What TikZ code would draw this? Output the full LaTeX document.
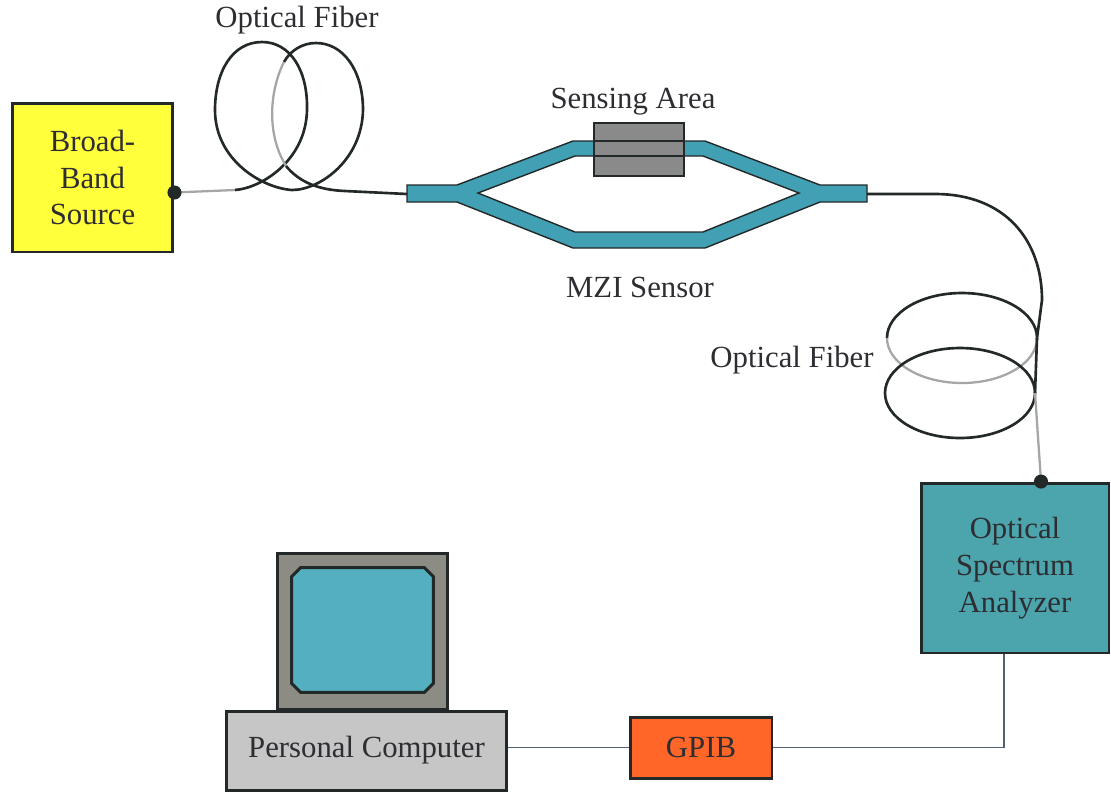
\documentclass[tikz,border=0pt]{standalone}
\usepackage{fontspec}
\setmainfont{Liberation Serif}
\usetikzlibrary{positioning}
\definecolor{SrcYellow}{RGB}{255,255,60}
\definecolor{WgTeal}{RGB}{66,160,180}
\definecolor{OsaTeal}{RGB}{76,164,172}
\definecolor{ScrTeal}{RGB}{84,176,192}
\definecolor{GpibOrange}{RGB}{255,102,40}
\definecolor{PcGray}{RGB}{198,198,198}
\definecolor{FrameGray}{RGB}{140,140,132}
\definecolor{SenseGray}{RGB}{138,138,138}
\definecolor{Edge}{RGB}{35,40,40}
\definecolor{InkGray}{RGB}{45,45,50}
\definecolor{LinkGray}{RGB}{85,95,115}
\tikzset{box/.style={rectangle,draw=Edge,line width=1.7pt,align=center,text=InkGray,inner sep=0pt},
  lbl/.style={text=InkGray,inner sep=0pt},
  fiber/.style={draw=Edge,line width=1.5pt},
  hidden/.style={draw=gray!70,line width=1.3pt},
  link/.style={draw=LinkGray,line width=0.6pt},
  port/.style={circle,fill=Edge,inner sep=0pt,minimum size=8pt}}

\begin{document}
\begin{tikzpicture}[x=0.02cm,y=-0.02cm,font=\fontsize{17.5}{21}\selectfont]
\useasboundingbox (0,0) rectangle (1111,796);
% instruments
\node[box,fill=SrcYellow,minimum width=3.22cm,minimum height=2.98cm] (bbs) at (92.5,177.5) {Broad-\\Band\\Source};
\node[box,fill=OsaTeal,minimum width=3.76cm,minimum height=3.4cm] (osa) at (1015,568) {Optical\\Spectrum\\Analyzer};
\node[box,fill=GpibOrange,minimum width=2.84cm,minimum height=1.22cm] (gpib) at (701,747.5) {GPIB};
\node[box,fill=PcGray,minimum width=5.62cm,minimum height=1.58cm] (pc) at (366.5,750.5) {Personal Computer};
\node[box,fill=FrameGray,minimum width=3.42cm,minimum height=3.12cm] (monitor) at (362.5,631) {};
% screen with cut corners
\node[rectangle,inner sep=0pt,minimum width=2.82cm,minimum height=2.48cm] (screen) at (362.5,630) {};
\draw[Edge,line width=1.7pt,fill=ScrTeal]
  ([xshift=0.18cm]screen.north west) -- ([xshift=-0.18cm]screen.north east) -- ([yshift=-0.18cm]screen.north east)
  -- ([yshift=0.18cm]screen.south east) -- ([xshift=-0.18cm]screen.south east) -- ([xshift=0.18cm]screen.south west)
  -- ([yshift=0.18cm]screen.south west) -- ([yshift=-0.18cm]screen.north west) -- cycle;

% fiber ports
\coordinate (srcport) at ([yshift=-0.3cm]bbs.east);
\coordinate (osaport) at ([xshift=0.52cm]osa.north);
\coordinate (osalink) at ([xshift=-0.22cm]osa.south);
\coordinate (mzin) at (407,194);
\coordinate (mzout) at (867,194);

% MZI waveguide
\fill[WgTeal,even odd rule,draw=Edge,line width=0.8pt]
  (mzin) -- (407,185) -- (457,185) -- (573,141) -- (705,141) -- (820,185) -- (867,185) -- (867,202) -- (820,202)
  -- (705,248) -- (573,248) -- (457,202) -- (407,202) -- cycle
  (478,193) -- (575,156) -- (703,156) -- (799,193) -- (703,232) -- (575,232) -- cycle;
\node[rectangle,draw=Edge,line width=0.8pt,fill=SenseGray,minimum width=1.8cm,minimum height=1.06cm,inner sep=0pt] (sense) at (639,149.5) {};
\draw[Edge,line width=0.8pt] (sense.west |- 0,141) -- (sense.east |- 0,141) (sense.west |- 0,156) -- (sense.east |- 0,156);
\node[lbl] (senselbl) at (633,102) {Sensing Area};
\node[lbl] (mzilbl) at (640,287) {MZI Sensor};

% input fiber coil
\draw[hidden] (srcport) -- (235,190);
\draw[fiber] (235,190) .. controls (262,188) and (306,160) .. (307,110)
  .. controls (308,70) and (290,42) .. (262,42)
  .. controls (232,42) and (215,72) .. (215,110)
  .. controls (215,160) and (262,188) .. (292,190)
  .. controls (320,190) and (362,160) .. (363,110)
  .. controls (363,70) and (343,43) .. (316,43)
  .. controls (302,43) and (290,51) .. (284,62);
\draw[hidden] (284,62) .. controls (272,85) and (264,130) .. (286,166);
\draw[fiber] (286,166) .. controls (300,183) and (320,190) .. (345,191) -- (mzin);
\node[lbl] (fiberlbl1) at (297,20) {Optical Fiber};

% output fiber coil
\draw[fiber] (mzout) -- (935,194) .. controls (1005,194) and (1042,240) .. (1042,300) -- (1037,338)
  arc[start angle=0,end angle=-180,x radius=75,y radius=45];
\draw[hidden] (887,338) arc[start angle=180,end angle=0,x radius=75,y radius=45];
\draw[fiber] (960,393) ellipse[x radius=75,y radius=45];
\draw[fiber] (1037,338) -- (1035,393);
\draw[hidden] (1035,393) -- (osaport);
\node[lbl] (fiberlbl2) at (792,360) {Optical Fiber};

\node[port] at (srcport) {};
\node[port] at (osaport) {};

% data links
\draw[link] (gpib.west) -- (gpib.west -| pc.east);
\draw[link] (gpib.east) -| (osalink);
\end{tikzpicture}
\end{document}
